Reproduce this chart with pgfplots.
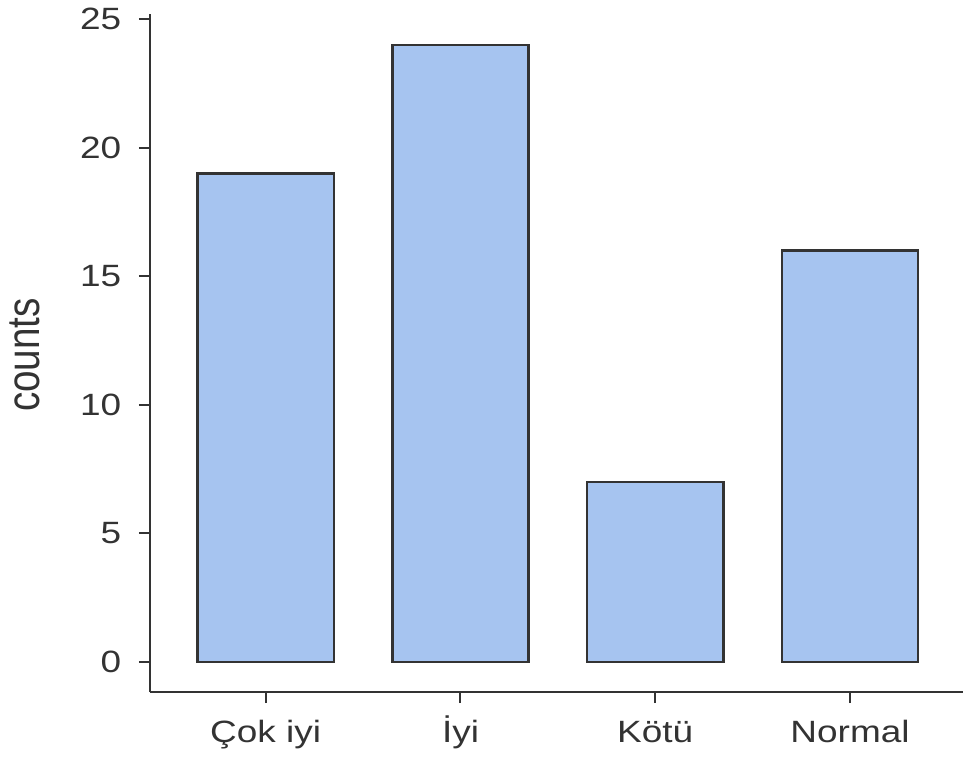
\documentclass[border=0pt]{standalone}
\usepackage{fontspec}
\setmainfont[FakeStretch=1.2]{Liberation Sans}
\newfontfamily\countsfont[FakeStretch=0.84]{Liberation Sans}
\usepackage{pgfplots}
\pgfplotsset{compat=1.18}
\definecolor{barfill}{RGB}{166,196,240}
\definecolor{edge}{RGB}{51,51,51}
\definecolor{txt}{RGB}{51,51,51}
\begin{document}
\begin{tikzpicture}
\begin{axis}[
  scale only axis, width=406.5pt, height=339pt,
  xmin=-0.594, xmax=3.58, ymin=-1.17, ymax=25.2,
  axis x line*=bottom, axis y line*=left,
  axis line style={edge, line width=1pt},
  xtick={0,1,2,3}, xticklabels={Çok iyi, İyi, Kötü, Normal},
  ytick={0,5,10,15,20,25},
  tick align=outside, major tick length=5.5pt,
  tick style={edge, line width=1pt},
  /pgf/number format/assume math mode=true,
  ticklabel style={font=\fontsize{15.4pt}{18pt}\selectfont, text=txt},
  xticklabel style={anchor=base, inner sep=0pt, at={(axis cs:\tick,-1.17)}, yshift=-19.85pt},
  yticklabel style={anchor=east, inner sep=0pt, xshift=-8.65pt},
  ylabel={\countsfont counts},
  ylabel style={font=\fontsize{23pt}{26pt}\selectfont, text=txt, inner sep=0pt,
    at={(axis description cs:-0.1365,0.497)}, anchor=base, rotate=0},
]
\addplot[ybar, bar width=0.7, fill=barfill, draw=edge, line width=1.2pt]
  coordinates {(0,19) (1,24) (2,7) (3,16)};
\end{axis}
\pgfresetboundingbox
\path[use as bounding box] (-75pt,-32pt) rectangle (406.5pt,346pt);
\end{tikzpicture}
\end{document}
